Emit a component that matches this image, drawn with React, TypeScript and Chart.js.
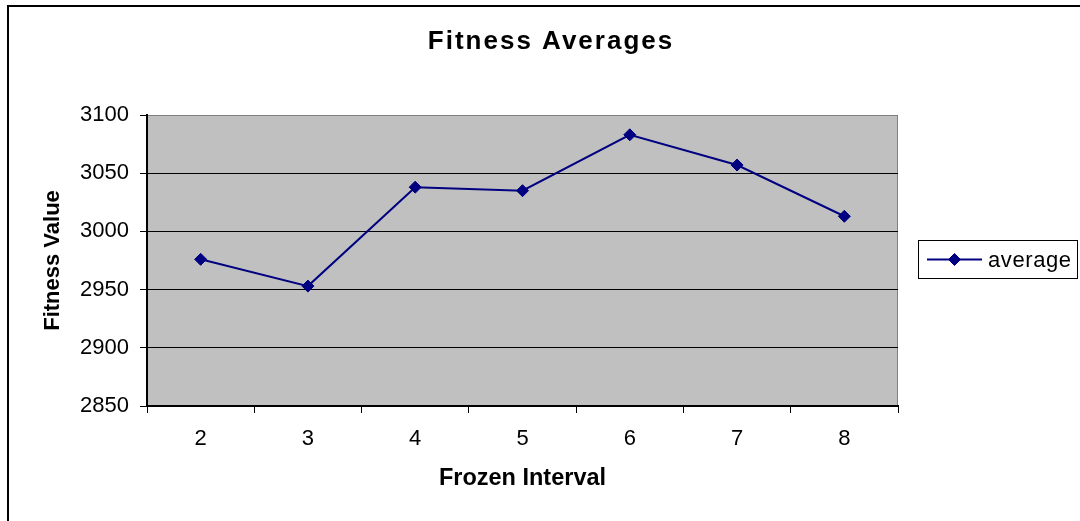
import { useEffect, useRef } from 'react';
import { Chart, registerables } from 'chart.js';

Chart.register(...registerables);

// Frozen interval categories and the average fitness reached for each
const intervals = ['2', '3', '4', '5', '6', '7', '8'];
const averages = [2976, 2953, 3038, 3035, 3083, 3057, 3013];
const yTickValues = [2850, 2900, 2950, 3000, 3050, 3100];

const seriesName = 'average';
const chartTitle = 'Fitness Averages';
const xAxisTitle = 'Frozen Interval';
const yAxisTitle = 'Fitness Value';

const FONT = '"Liberation Sans", Arial, Helvetica, sans-serif';
const NAVY = '#000080';
const PLOT_GRAY = '#C0C0C0';

// Draws the white page, grey plot area, outer frame, title and legend box
const framePlugin = {
  id: 'frame',
  beforeDraw(chart: any) {
    const { ctx, chartArea: a } = chart;
    ctx.save();
    ctx.fillStyle = '#ffffff';
    ctx.fillRect(0, 0, chart.width, chart.height);
    ctx.fillStyle = PLOT_GRAY;
    ctx.fillRect(a.left, a.top, a.right - a.left, a.bottom - a.top);
    // plot-area border on the top and right sides
    ctx.strokeStyle = '#808080';
    ctx.lineWidth = 1;
    ctx.beginPath();
    ctx.moveTo(a.left, a.top + 0.5);
    ctx.lineTo(a.right - 0.5, a.top + 0.5);
    ctx.lineTo(a.right - 0.5, a.bottom);
    ctx.stroke();
    ctx.restore();
  },
  afterDraw(chart: any) {
    const { ctx } = chart;
    ctx.save();
    // outer chart frame
    ctx.strokeStyle = '#000';
    ctx.lineWidth = 2;
    ctx.strokeRect(8, 6, chart.width + 20, chart.height + 20);

    // title
    ctx.fillStyle = '#000';
    ctx.font = `bold 26px ${FONT}`;
    (ctx as any).letterSpacing = '2px';
    ctx.textAlign = 'center';
    ctx.textBaseline = 'middle';
    ctx.fillText(chartTitle, 551, 42);
    (ctx as any).letterSpacing = '0px';

    // legend
    const ds = chart.data.datasets[0];
    ctx.lineWidth = 1;
    ctx.strokeStyle = '#000';
    ctx.strokeRect(918.5, 240.5, 159, 38);
    const cy = 259.5;
    ctx.strokeStyle = ds.borderColor;
    ctx.lineWidth = 2;
    ctx.beginPath();
    ctx.moveTo(927, cy);
    ctx.lineTo(982, cy);
    ctx.stroke();
    const r = 6;
    const cx = 954.5;
    ctx.fillStyle = ds.pointBackgroundColor;
    ctx.lineWidth = 1;
    ctx.beginPath();
    ctx.moveTo(cx - r, cy);
    ctx.lineTo(cx, cy - r);
    ctx.lineTo(cx + r, cy);
    ctx.lineTo(cx, cy + r);
    ctx.closePath();
    ctx.fill();
    ctx.stroke();
    ctx.fillStyle = '#000';
    ctx.font = `22px ${FONT}`;
    (ctx as any).letterSpacing = '0.6px';
    ctx.textAlign = 'left';
    ctx.textBaseline = 'middle';
    ctx.fillText(ds.label, 988, cy + 1);
    ctx.restore();
  },
};

export default function App() {
  const canvasRef = useRef<HTMLCanvasElement | null>(null);

  useEffect(() => {
    const canvas = canvasRef.current;
    if (!canvas) return;
    const chart = new Chart(canvas, {
      type: 'line',
      data: {
        labels: intervals,
        datasets: [
          {
            label: seriesName,
            data: averages,
            borderColor: NAVY,
            backgroundColor: NAVY,
            pointBackgroundColor: NAVY,
            pointBorderColor: NAVY,
            borderWidth: 2,
            pointStyle: 'rectRot',
            pointRadius: 6,
            pointBorderWidth: 1,
            tension: 0,
            fill: false,
          },
        ],
      },
      options: {
        animation: false,
        responsive: false,
        devicePixelRatio: 1,
        layout: { padding: { top: 115, right: 182, left: 0, bottom: 0 } },
        plugins: {
          legend: { display: false },
          title: { display: false },
          tooltip: { enabled: false },
        },
        scales: {
          x: {
            type: 'category',
            offset: true,
            grid: {
              display: true,
              drawOnChartArea: false,
              drawTicks: true,
              tickLength: 7,
              tickColor: '#000',
              offset: true,
            },
            border: { display: true, color: '#000', width: 2 },
            ticks: {
              color: '#000',
              font: { family: FONT, size: 22 },
              padding: 13,
              maxRotation: 0,
            },
            title: {
              display: true,
              text: xAxisTitle,
              color: '#000',
              font: { family: FONT, size: 23.5, weight: 'bold' },
              padding: { top: 0, bottom: 28 },
            },
            afterFit: (s: any) => {
              s.height = 115;
            },
          },
          y: {
            type: 'linear',
            min: 2850,
            max: 3100,
            afterBuildTicks: (s: any) => {
              s.ticks = yTickValues.map((v) => ({ value: v }));
            },
            grid: {
              color: (c: any) => (c.tick && c.tick.value === 3100 ? '#808080' : '#000'),
              lineWidth: 1,
              drawTicks: true,
              tickLength: 7,
              tickColor: '#000',
            },
            border: { display: true, color: '#000', width: 2 },
            ticks: {
              color: '#000',
              font: { family: FONT, size: 22 },
              padding: 11,
              callback: (v: any) => String(v),
            },
            title: {
              display: true,
              text: yAxisTitle,
              color: '#000',
              font: { family: FONT, size: 22, weight: 'bold' },
              padding: { top: 40, bottom: 0 },
            },
            afterFit: (s: any) => {
              s.width = 147;
            },
          },
        },
      },
      plugins: [framePlugin],
    });
    return () => chart.destroy();
  }, []);

  return (
    <div style={{ position: 'fixed', left: 0, top: 0, width: 1080, height: 521, background: '#fff' }}>
      <canvas ref={canvasRef} width={1080} height={521} style={{ display: 'block', width: 1080, height: 521 }} />
    </div>
  );
}
